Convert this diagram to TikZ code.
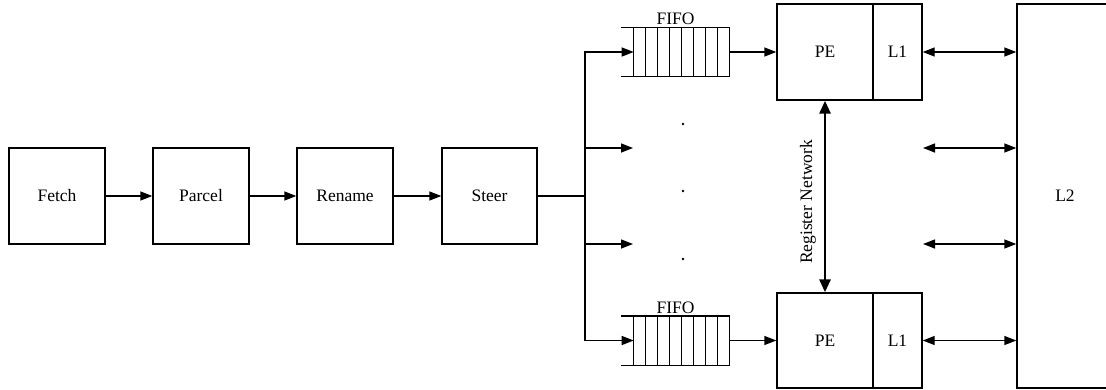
\documentclass[tikz,border=0pt]{standalone}
\usepackage{fontspec}
\setmainfont{Liberation Serif}
\usetikzlibrary{arrows.meta}
\begin{document}
\begin{tikzpicture}[x=1pt,y=-1pt,
  line width=1.4pt,
  every node/.style={font=\fontsize{17.5}{20}\selectfont},
  block/.style={draw, minimum width=96pt, minimum height=96pt, inner sep=0pt},
  cache/.style={draw, minimum width=49pt, minimum height=96pt, inner sep=0pt},
  queue/.style={minimum width=107pt, minimum height=48pt, inner sep=0pt},
  flow/.style={-{Triangle[length=12pt,width=9pt]}},
  bidir/.style={{Triangle[length=12pt,width=9pt]}-{Triangle[length=12pt,width=9pt]}},
  regnet/.style={line width=2.8pt, {Triangle[length=13pt,width=11pt]}-{Triangle[length=13pt,width=11pt]}},
  ellip/.style={circle, fill, inner sep=0pt, minimum size=2.8pt}
]
\useasboundingbox (0,0) rectangle (1106,389);
\clip (0,0) rectangle (1106,389);

% front-end pipeline
\node[block] (fetch)  at (57,196)  {Fetch};
\node[block] (parcel) at (201,196) {Parcel};
\node[block] (rename) at (345,196) {Rename};
\node[block, minimum width=95pt] (steer) at (489.5,196) {Steer};

\draw[flow] (fetch)  -- (parcel);
\draw[flow] (parcel) -- (rename);
\draw[flow] (rename) -- (steer);

% processing elements with private L1
\node[block] (peA) at (825,52) {PE};
\node[cache] (l1A) at (897.5,52) {L1};
\node[block, minimum height=95pt] (peB) at (825,340.5) {PE};
\node[cache, minimum height=95pt] (l1B) at (897.5,340.5) {L1};

% shared L2
\node[draw, minimum width=96pt, minimum height=384pt, inner sep=0pt] (l2) at (1065,196) {L2};

% instruction queues
\foreach \q/\y in {fifoA/52, fifoB/340.5} {
  \node[queue] (\q) at (675.5,\y) {};
  \draw (\q.north west) -- (\q.north east);
  \draw (\q.south west) -- (\q.south east);
  \foreach \k in {0,...,8}
    \draw ([xshift=-12*\k pt]\q.north east) -- ([xshift=-12*\k pt]\q.south east);
  \coordinate (\q-in) at ([xshift=-96pt]\q.east);
  \node[anchor=south, inner sep=1.5pt] (\q-label) at (\q.north) {FIFO};
}

% steering bus
\coordinate (bus) at (585,196);
\coordinate (busA) at (585,52);
\coordinate (busB) at (585,340.5);
\coordinate (mid1) at (633,148);
\coordinate (mid2) at (633,244);
\draw (steer.east) -- (bus);
\draw[flow] (bus) -- (busA) -- (fifoA-in);
\draw[flow] (bus) -- (busB) -- (fifoB-in);
\draw[flow] (bus |- mid1) -- (mid1);
\draw[flow] (bus |- mid2) -- (mid2);

\draw[flow] (fifoA.east) -- (peA.west);
\draw[flow] (fifoB.east) -- (peB.west);

% elided processing elements
\node[ellip] (dot1) at (683,124) {};
\node[ellip] (dot2) at (683,191) {};
\node[ellip] (dot3) at (683,259) {};

% register network between PEs
\draw[regnet] (peA.south) -- (peB.north);
\node[rotate=90] (regnetlabel) at (808,202) {Register Network};

% L1 <-> L2 links
\coordinate (lnk1) at (923,148);
\coordinate (lnk2) at (923,244);
\draw[bidir] (l1A.east) -- (l1A.east -| l2.west);
\draw[bidir] (lnk1) -- (lnk1 -| l2.west);
\draw[bidir] (lnk2) -- (lnk2 -| l2.west);
\draw[bidir] (l1B.east) -- (l1B.east -| l2.west);
\end{tikzpicture}
\end{document}
